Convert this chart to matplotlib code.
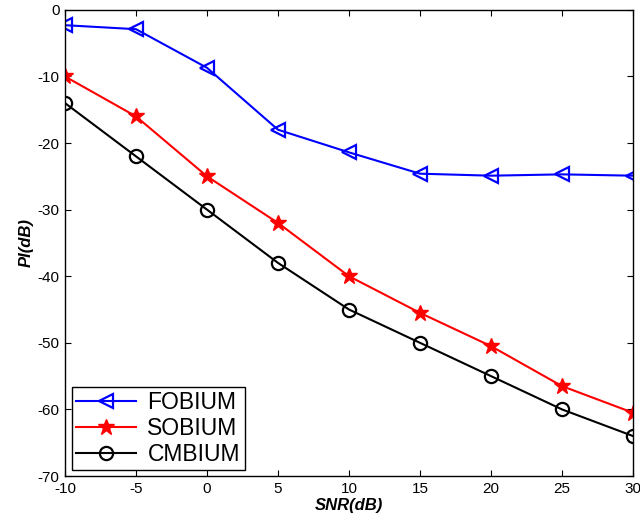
import matplotlib
matplotlib.use("Agg")
import matplotlib.pyplot as plt

snr = [-10, -5, 0, 5, 10, 15, 20, 25, 30]
fobium = [-2.3, -2.9, -8.7, -18.0, -21.4, -24.6, -24.9, -24.7, -24.9]
sobium = [-10.0, -16.0, -25.0, -32.0, -40.0, -45.5, -50.5, -56.5, -60.5]
cmbium = [-14.0, -22.0, -30.0, -38.0, -45.0, -50.0, -55.0, -60.0, -64.0]

plt.rcParams["font.family"] = ["Liberation Sans", "DejaVu Sans"]
plt.rcParams["axes.unicode_minus"] = False

fig = plt.figure(figsize=(6.4, 5.2), dpi=100)
ax = fig.add_axes([0.1016, 0.0846, 0.8875, 0.8964])

ax.plot(snr, fobium, color="#0000ff", marker="<", markersize=10, markerfacecolor="none",
        markeredgewidth=1.6, linewidth=1.5, label="FOBIUM")
ax.plot(snr, sobium, color="#ff0000", marker="*", markersize=12, markerfacecolor="#ff0000",
        markeredgewidth=1.0, linewidth=1.5, label="SOBIUM")
ax.plot(snr, cmbium, color="#000000", marker="o", markersize=9.5, markerfacecolor="none",
        markeredgewidth=1.6, linewidth=1.5, label="CMBIUM")

ax.set_xlim(-10, 30)
ax.set_ylim(-70, 0)
ax.set_xticks(range(-10, 31, 5))
ax.set_yticks(range(-70, 1, 10))
ax.tick_params(direction="in", top=True, right=True, labelsize=11, length=4, pad=4)
for spine in ax.spines.values():
    spine.set_linewidth(1.0)

ax.set_xlabel("SNR(dB)", fontsize=12, fontweight="bold", fontstyle="italic", labelpad=2)
ax.set_ylabel("PI(dB)", fontsize=12, fontweight="bold", fontstyle="italic", labelpad=3)

leg = ax.legend(loc="lower left", bbox_to_anchor=(0.012, 0.012), fontsize=16.5, frameon=True,
                fancybox=False, edgecolor="black", framealpha=1, handlelength=2.6,
                handletextpad=0.5, labelspacing=0.12, borderpad=0.2, borderaxespad=0.0)
leg.get_frame().set_linewidth(1.0)

fig.savefig("out.png", dpi=100)
